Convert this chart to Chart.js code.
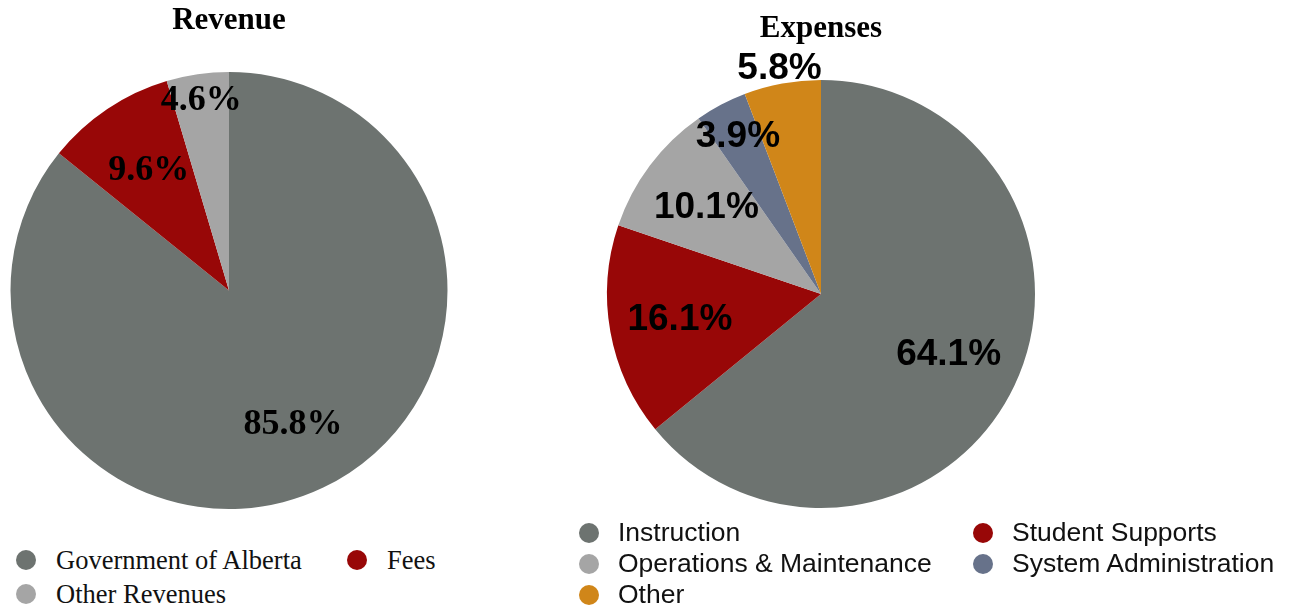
<!DOCTYPE html>
<html lang="en">
<head>
<meta charset="UTF-8">
<title>Revenue and Expenses</title>
<script src="https://cdn.jsdelivr.net/npm/chart.js"></script>
<style>
    body { margin: 0; background: #fff; width: 1298px; height: 606px; position: relative; overflow: hidden; }
    .box { position: absolute; top: 0; height: 520px; }
    #revBox { left: 0; width: 460px; }
    #expBox { left: 560px; width: 520px; }
    .legend { position: absolute; display: grid; row-gap: 0; }
    .legend .item { display: flex; align-items: center; white-space: nowrap; }
    .legend .dot { width: 20px; height: 20px; border-radius: 50%; flex: none; }
    #revLegend { left: 16px; top: 543px; grid-template-columns: 331px auto;
        font-family: 'Liberation Serif', 'Times New Roman', serif; font-size: 26.5px; color: #111; }
    #revLegend .item { height: 34px; }
    #revLegend .dot { margin-right: 20px; }
    #expLegend { left: 579px; top: 517px; grid-template-columns: 394px auto;
        font-family: 'Liberation Sans', Arial, sans-serif; font-size: 26.5px; color: #111; }
    #expLegend .item { height: 31px; }
    #expLegend .dot { margin-right: 19px; }
</style>
</head>
<body>
<div class="box" id="revBox"><canvas id="revChart"></canvas></div>
<div class="box" id="expBox"><canvas id="expChart"></canvas></div>
<div class="legend" id="revLegend"></div>
<div class="legend" id="expLegend"></div>

<script>
    // data
    const revLabels = ['Government of Alberta', 'Fees', 'Other Revenues'];
    const revValues = [85.8, 9.6, 4.6];
    const revColors = ['#6d7370', '#980707', '#a5a5a5'];

    const expLabels = ['Instruction', 'Student Supports', 'Operations & Maintenance', 'System Administration', 'Other'];
    const expValues = [64.1, 16.1, 10.1, 3.9, 5.8];
    const expColors = ['#6d7370', '#980707', '#a5a5a5', '#67728a', '#d08619'];

    // draws "xx.x%" on each slice, radial position as fraction of radius
    const sliceLabels = {
        id: 'sliceLabels',
        afterDatasetsDraw(chart, args, opts) {
            const ctx = chart.ctx;
            const meta = chart.getDatasetMeta(0);
            const data = chart.data.datasets[0].data;
            ctx.save();
            ctx.font = opts.font;
            ctx.fillStyle = '#000';
            ctx.textAlign = 'center';
            ctx.textBaseline = 'middle';
            meta.data.forEach((arc, i) => {
                const p = arc.getProps(['x', 'y', 'startAngle', 'endAngle', 'outerRadius'], true);
                const mid = (p.startAngle + p.endAngle) / 2;
                const r = p.outerRadius * opts.radial[i];
                ctx.fillText(data[i].toFixed(1) + '%', p.x + Math.cos(mid) * r, p.y + Math.sin(mid) * r);
            });
            ctx.restore();
        }
    };

    function makePie(id, title, labels, values, colors, padding, titlePad, labelFont, radial) {
        return new Chart(document.getElementById(id), {
            type: 'pie',
            data: {
                labels: labels,
                datasets: [{ data: values, backgroundColor: colors, borderWidth: 0 }]
            },
            options: {
                responsive: true,
                maintainAspectRatio: false,
                animation: false,
                layout: { padding: padding },
                plugins: {
                    legend: { display: false },
                    tooltip: { enabled: false },
                    title: {
                        display: true,
                        text: title,
                        color: '#000',
                        font: { family: "'Liberation Serif', 'Times New Roman', serif", size: 31, weight: 'bold' },
                        padding: titlePad
                    },
                    sliceLabels: { font: labelFont, radial: radial }
                }
            },
            plugins: [sliceLabels]
        });
    }

    makePie('revChart', 'Revenue', revLabels, revValues, revColors,
        { left: 10, right: 12, top: 0, bottom: 11 }, { top: 2, bottom: 32.8 },
        "bold 36px 'Liberation Serif', 'Times New Roman', serif", [0.68, 0.66, 0.88]);

    makePie('expChart', 'Expenses', expLabels, expValues, expColors,
        { left: 47, right: 45, top: 0, bottom: 12 }, { top: 10, bottom: 32.8 },
        "bold 37px 'Liberation Sans', Arial, sans-serif", [0.66, 0.67, 0.67, 0.83, 1.07]);

    function buildLegend(elId, labels, colors) {
        const el = document.getElementById(elId);
        labels.forEach((name, i) => {
            const item = document.createElement('div');
            item.className = 'item';
            item.innerHTML = '<span class="dot" style="background:' + colors[i] + '"></span><span></span>';
            item.lastChild.textContent = name;
            el.appendChild(item);
        });
    }
    buildLegend('revLegend', revLabels, revColors);
    buildLegend('expLegend', expLabels, expColors);
</script>
</body>
</html>
